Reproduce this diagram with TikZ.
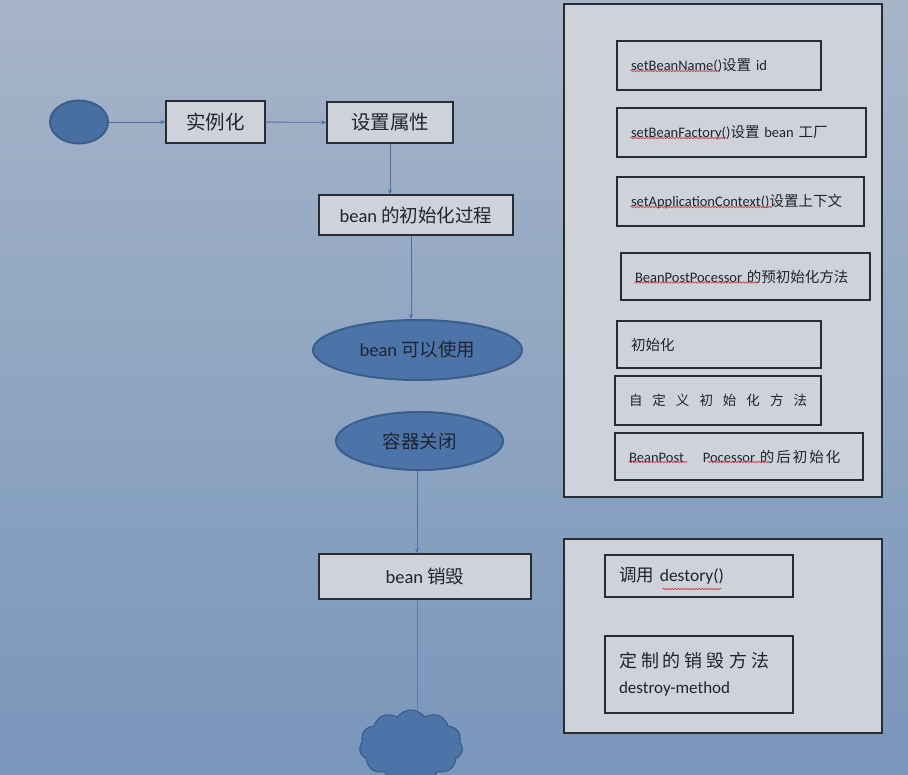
\documentclass[tikz,border=0pt]{standalone}
\usepackage{fontspec}
\setmainfont{Carlito}
\newfontfamily\cjk{Noto Sans CJK SC}
\usetikzlibrary{shapes.geometric,shapes.symbols,arrows.meta,decorations.pathmorphing,calc}
\definecolor{bgtop}{RGB}{166,180,200}
\definecolor{bgbot}{RGB}{121,150,187}
\definecolor{boxfill}{RGB}{207,210,216}
\definecolor{boxline}{RGB}{40,44,52}
\definecolor{ellfill}{RGB}{77,116,168}
\definecolor{elline}{RGB}{58,94,140}
\definecolor{arrcol}{RGB}{74,111,164}
\definecolor{txtdark}{RGB}{30,36,48}
\definecolor{wavyred}{RGB}{200,70,80}
\newcommand{\gapA}{\hspace{10pt}}
\tikzset{
  bigbox/.style={draw=boxline, fill=boxfill, line width=1.3pt, rectangle, inner sep=0pt,
    text=txtdark, font=\fontsize{18.5}{22}\selectfont},
  ell/.style={draw=elline, fill=ellfill, line width=2pt, ellipse, inner sep=0pt,
    text=txtdark, font=\fontsize{18.5}{22}\selectfont},
  panel/.style={draw=boxline, fill=boxfill, line width=1.2pt, rectangle, inner sep=0pt},
  small/.style={draw=boxline, fill=boxfill, line width=1.2pt, rectangle, inner ysep=0pt,
    inner xsep=14pt, align=left, text=txtdark, font=\fontsize{14.5}{17}\selectfont},
  arr/.style={draw=arrcol, line width=0.9pt, -{Stealth[length=5pt,width=4pt]}},
  plain/.style={draw=arrcol, line width=0.9pt},
  wavy/.style={draw=wavyred, line width=0.6pt, decorate,
    decoration={snake, amplitude=0.8pt, segment length=3pt}}
}
\begin{document}
\begin{tikzpicture}[x=1pt,y=-1pt]
\useasboundingbox (0,0) rectangle (908,775);
\clip (0,0) rectangle (908,775);
\fill[top color=bgtop, bottom color=bgbot] (0,0) rectangle (908,775);

% left flow
\node[ell, minimum width=58pt, minimum height=43pt, fill=ellfill!95!black] (start) at (79,122) {};
\node[bigbox, minimum width=99pt, minimum height=42pt, font=\fontsize{19.5}{22}\selectfont] (inst) at (215.5,122) {{\cjk 实例化}\hspace{28pt}};
\node[bigbox, minimum width=126pt, minimum height=41pt, font=\fontsize{19.5}{22}\selectfont] (setp) at (390,122.5) {{\cjk 设置属性}\hspace{36pt}};
\node[bigbox, minimum width=194pt, minimum height=40pt] (init) at (416,215) {bean {\cjk 的初始化过程}};
\node[ell, minimum width=209pt, minimum height=60pt] (usable) at (417.5,350) {bean {\cjk 可以使用}};
\node[ell, minimum width=167pt, minimum height=58pt] (close) at (419.5,441) {\cjk 容器关闭};
\node[bigbox, minimum width=212pt, minimum height=45pt] (destroy) at (425,576.5) {bean {\cjk 销毁}\hspace{16pt}};
\node[cloud, cloud puffs=11, cloud puff arc=110, aspect=1.4, draw=elline, fill=ellfill, line width=1.2pt,
      minimum width=103pt, minimum height=72pt] (cloud) at (411,746) {};

\draw[arr] (start) -- (inst);
\draw[arr] (inst) -- (setp);
\draw[arr] (setp.south) -- (setp.south |- init.north);
\draw[arr] (init.south -| 411,0) -- (usable.north -| 411,0);
\draw[arr] (close.south -| 417,0) -- (destroy.north -| 417,0);
\draw[plain] (destroy.south -| 417,0) -- (cloud.north -| 417,0) -- ++(0,3);

% right panel 1
\node[panel, minimum width=318pt, minimum height=493pt] (panel1) at (723,250.5) {};
\node[small, text width=176pt, minimum height=49pt] (n1) at (719,65.5) {setBeanName(){\cjk 设置} id};
\node[small, text width=221pt, minimum height=49pt] (n2) at (741.5,132.5) {setBeanFactory(){\cjk 设置} bean {\cjk 工厂}};
\node[small, text width=219pt, minimum height=49pt] (n3) at (740.5,201.5) {setApplicationContext(){\cjk 设置上下文}};
\node[small, text width=221pt, minimum height=47pt] (n4) at (745.5,276.5) {BeanPostPocessor {\cjk 的预初始化方法}};
\node[small, text width=176pt, minimum height=47pt, font=\fontsize{14.5}{17}\selectfont] (n5) at (719,344.5) {\cjk 初始化};
\node[small, text width=178pt, minimum height=49pt, font=\fontsize{13.5}{16}\selectfont] (n6) at (718,400.5) {\cjk 自\gapA 定\gapA 义\gapA 初\gapA 始\gapA 化\gapA 方\gapA 法};
\node[small, text width=220pt, minimum height=47pt] (n7) at (739,456.5) {BeanPost\hspace{19pt}Pocessor {\cjk 的\hspace{2pt}后\hspace{2pt}初\hspace{2pt}始\hspace{2pt}化}};

% right panel 2
\node[panel, minimum width=318pt, minimum height=194pt] (panel2) at (723,636) {};
\node[small, text width=160pt, minimum height=42pt, font=\fontsize{17.5}{20}\selectfont] (d1) at (699,576) {{\cjk 调用} destory()};
\node[small, text width=160pt, minimum height=77pt, font=\fontsize{18}{30}\selectfont] (d2) at (699,674.5) {{\cjk 定\hspace{4pt}制\hspace{4pt}的\hspace{4pt}销\hspace{4pt}毁\hspace{4pt}方\hspace{4pt}法}\\[-4pt]{\fontsize{17}{20}\selectfont destroy-method}};

% spell-check underlines
\draw[wavy] ($(n1.west)+(14,5.5)$) -- +(89,0);
\draw[wavy] ($(n2.west)+(14,5.5)$) -- +(96,0);
\draw[wavy] ($(n3.west)+(14,5.5)$) -- +(142,0);
\draw[wavy] ($(n4.west)+(14,6)$) -- +(124,0);
\draw[wavy] ($(n7.west)+(14,5.5)$) -- +(59,0);
\draw[wavy] ($(n7.west)+(93,5.5)$) -- +(62,0);
\draw[wavy] ($(d1.west)+(58,13)$) -- +(59,0);
\end{tikzpicture}
\end{document}
